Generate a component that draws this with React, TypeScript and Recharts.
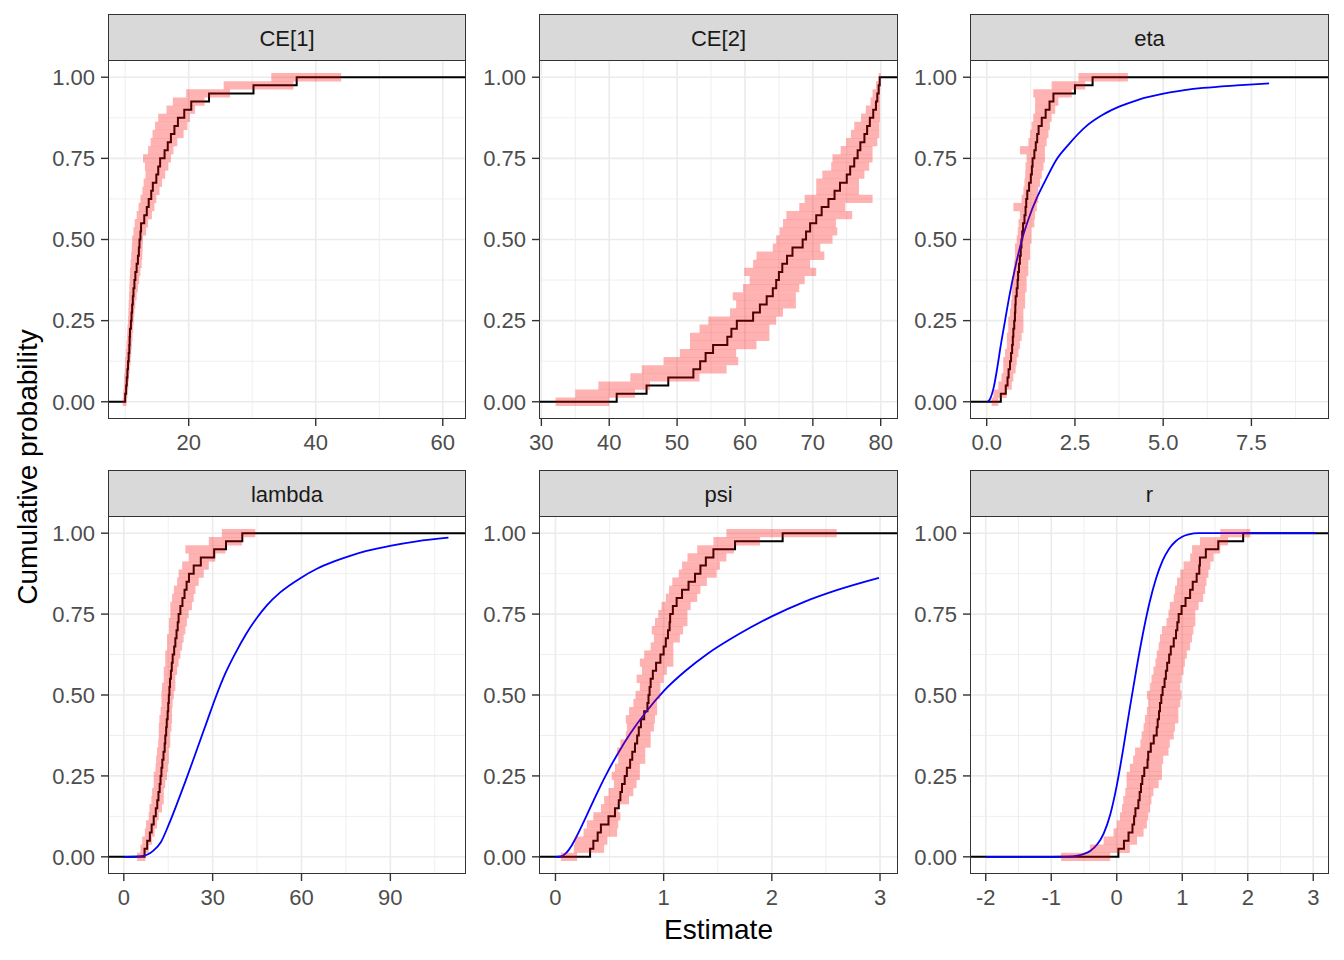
import {
  CartesianGrid,
  ComposedChart,
  ErrorBar,
  Line,
  Scatter,
  XAxis,
  YAxis,
} from "recharts";

const FONT = '"Liberation Sans", Arial, Helvetica, sans-serif';

// cumulative probability levels at which the ECDF / intervals were read
const probs = [
  0, 0.025, 0.05, 0.075, 0.1, 0.125, 0.15, 0.175, 0.2, 0.225, 0.25, 0.275, 0.3, 0.325, 0.35, 0.375,
  0.4, 0.425, 0.45, 0.475, 0.5, 0.525, 0.55, 0.575, 0.6, 0.625, 0.65, 0.675, 0.7, 0.725, 0.75, 0.775,
  0.8, 0.825, 0.85, 0.875, 0.9, 0.925, 0.95, 0.975, 1,
];
const yTicks = [0, 0.25, 0.5, 0.75, 1];
const yMinor = [0.125, 0.375, 0.625, 0.875];

// CE[1]
const ce1Ecdf = [9.9, 10.0, 10.15, 10.25, 10.35, 10.45, 10.55, 10.65, 10.7, 10.75, 10.9, 11.0, 11.1, 11.2, 11.3, 11.45, 11.6, 11.8, 12.0, 12.15, 12.25, 12.4, 12.5, 13.0, 13.4, 13.7, 14.1, 14.35, 14.9, 15.2, 15.5, 16.2, 16.7, 17.2, 17.75, 18.3, 19.3, 20.4, 23.2, 30.2, 37];
const ce1Lo = [9.6, 9.7, 9.8, 9.85, 9.95, 10.0, 10.1, 10.2, 10.3, 10.35, 10.45, 10.5, 10.55, 10.6, 10.65, 10.7, 10.75, 10.85, 10.95, 11.05, 11.1, 11.3, 11.5, 11.8, 12.1, 12.4, 12.7, 12.9, 13.2, 13.1, 12.8, 13.6, 14.0, 14.3, 14.7, 15.2, 16.5, 17.5, 19.6, 25.5, 33];
const ce1Hi = [10.2, 10.35, 10.5, 10.6, 10.7, 10.85, 10.95, 11.05, 11.15, 11.25, 11.35, 11.45, 11.6, 11.8, 12.0, 12.2, 12.4, 12.6, 12.7, 12.75, 12.8, 13.3, 13.6, 14.2, 14.6, 14.9, 15.4, 15.8, 16.3, 16.8, 17.2, 17.6, 18.2, 19.2, 19.8, 20.2, 21.0, 22.5, 26.5, 36.5, 44];
const ce1Domain = [7.45, 63.5];
const ce1Ticks = [20, 40, 60];
const ce1Minor = [10, 30, 50];

// CE[2]
const ce2Ecdf = [37.2, 41.1, 45.5, 48.7, 52.4, 53.4, 54.2, 55.3, 57.4, 58.0, 58.8, 61.2, 62.2, 63.2, 64.1, 64.6, 65.0, 65.5, 66.2, 67.0, 68.5, 69.0, 69.6, 70.5, 71.3, 72.3, 73.2, 74.0, 75.0, 75.5, 76.1, 76.6, 77.0, 77.6, 78.0, 78.4, 78.9, 79.3, 79.5, 79.7, 79.85];
const ce2Lo = [32.1, 35.0, 38.4, 43.1, 44.8, 48.0, 50.4, 51.9, 51.9, 53.3, 54.6, 57.8, 58.7, 58.2, 59.7, 60.7, 59.9, 61.2, 61.7, 64.1, 64.6, 65.1, 65.6, 66.1, 68.0, 68.8, 70.5, 70.5, 71.4, 72.7, 72.9, 74.1, 74.9, 75.6, 76.1, 77.1, 77.8, 78.5, 78.8, 79.3, 79.7];
const ce2Hi = [40.0, 43.8, 46.0, 53.3, 57.3, 59.0, 58.7, 61.7, 63.6, 63.6, 64.6, 65.6, 67.5, 67.5, 68.0, 68.8, 70.5, 69.6, 71.7, 71.1, 72.9, 73.6, 73.4, 75.8, 74.8, 78.8, 76.8, 76.8, 77.6, 78.3, 78.8, 78.8, 79.5, 79.8, 79.8, 79.9, 79.9, 79.9, 79.9, 79.95, 80.0];
const ce2Domain = [29.8, 82.4];
const ce2Ticks = [30, 40, 50, 60, 70, 80];
const ce2Minor = [35, 45, 55, 65, 75];

// eta
const etaEcdf = [0.28, 0.4, 0.54, 0.59, 0.62, 0.66, 0.69, 0.72, 0.74, 0.755, 0.78, 0.8, 0.81, 0.82, 0.85, 0.875, 0.89, 0.915, 0.94, 0.965, 0.985, 1.005, 1.03, 1.07, 1.1, 1.12, 1.15, 1.2, 1.25, 1.28, 1.3, 1.35, 1.39, 1.43, 1.47, 1.56, 1.67, 1.78, 1.89, 2.5, 3.0];
const etaLo = [0.14, 0.19, 0.33, 0.42, 0.47, 0.47, 0.52, 0.57, 0.57, 0.61, 0.61, 0.66, 0.69, 0.71, 0.71, 0.73, 0.755, 0.78, 0.8, 0.8, 0.85, 0.88, 0.9, 0.94, 0.755, 0.99, 1.04, 1.07, 1.09, 1.1, 1.13, 0.94, 1.18, 1.23, 1.27, 1.32, 1.37, 1.37, 1.32, 1.84, 2.6];
const etaHi = [0.33, 0.57, 0.71, 0.755, 0.82, 0.85, 0.9, 0.94, 0.99, 1.04, 1.04, 1.04, 1.09, 1.09, 1.13, 1.13, 1.18, 1.18, 1.23, 1.23, 1.27, 1.27, 1.35, 1.37, 1.42, 1.46, 1.46, 1.51, 1.56, 1.61, 1.65, 1.65, 1.7, 1.75, 1.79, 1.84, 1.94, 2.03, 2.41, 2.79, 4.0];
const etaPriorX = [0.03, 0.1, 0.2, 0.3, 0.4, 0.52, 0.65, 0.8, 1.0, 1.2, 1.42, 1.7, 1.97, 2.3, 2.83, 3.3, 3.77, 4.25, 5.19, 6.13, 7.08, 8.0];
const etaPriorY = [0, 0.01, 0.045, 0.105, 0.175, 0.25, 0.33, 0.41, 0.5, 0.568, 0.628, 0.69, 0.745, 0.79, 0.85, 0.885, 0.91, 0.929, 0.953, 0.967, 0.975, 0.981];
const etaDomain = [-0.445, 9.67];
const etaTicks = [0, 2.5, 5, 7.5];
const etaMinor = [1.25, 3.75, 6.25, 8.75];

// lambda
const lamEcdf = [5.3, 7.0, 7.9, 8.8, 9.4, 10.1, 10.8, 11.3, 11.7, 12.1, 12.4, 12.7, 13.0, 13.4, 13.8, 14.0, 14.3, 14.5, 14.8, 15.0, 15.2, 15.4, 15.6, 15.9, 16.2, 16.5, 17.0, 17.4, 17.8, 18.2, 18.5, 19.1, 19.8, 20.5, 21.2, 22.0, 23.6, 26.0, 30.5, 34.5, 40.0];
const lamLo = [4.5, 5.6, 6.2, 7.1, 7.5, 8.4, 8.65, 9.3, 9.55, 10.1, 10.1, 10.7, 10.9, 11.2, 11.6, 11.8, 11.8, 12.0, 12.4, 12.7, 12.7, 12.9, 13.5, 13.5, 14.0, 14.0, 14.6, 14.6, 15.2, 15.2, 15.7, 15.7, 16.3, 16.9, 18.0, 18.5, 19.7, 21.9, 20.8, 28.7, 33.1];
const lamHi = [7.3, 8.4, 9.55, 10.4, 11.2, 11.8, 12.9, 13.5, 13.5, 14.0, 14.6, 14.9, 15.2, 15.2, 15.7, 15.7, 16.1, 16.3, 16.3, 16.5, 16.9, 17.4, 17.4, 18.0, 18.5, 19.1, 19.7, 20.2, 20.8, 21.3, 21.9, 23.0, 23.6, 24.2, 25.3, 27.0, 28.7, 30.9, 34.3, 39.9, 44.4];
const lamPriorX = [0, 4, 6, 8, 10, 12.5, 15.2, 18, 20.8, 23.3, 25.8, 28.3, 30.9, 34.2, 37.6, 41.2, 44.9, 48.3, 52.8, 59.6, 65.2, 70.8, 76.4, 82, 89.9, 98.9, 109.6];
const lamPriorY = [0, 0.0005, 0.002, 0.007, 0.019, 0.045, 0.1, 0.165, 0.233, 0.296, 0.36, 0.424, 0.49, 0.565, 0.628, 0.687, 0.738, 0.777, 0.817, 0.861, 0.89, 0.912, 0.93, 0.945, 0.961, 0.975, 0.986];
const lamDomain = [-5.0, 115.2];
const lamTicks = [0, 30, 60, 90];
const lamMinor = [15, 45, 75, 105];

// psi
const psiEcdf = [0.09, 0.32, 0.35, 0.39, 0.42, 0.49, 0.55, 0.585, 0.6, 0.615, 0.64, 0.66, 0.69, 0.71, 0.735, 0.755, 0.77, 0.79, 0.82, 0.85, 0.86, 0.87, 0.88, 0.9, 0.93, 0.97, 1.0, 1.02, 1.04, 1.055, 1.06, 1.085, 1.12, 1.17, 1.23, 1.29, 1.34, 1.39, 1.46, 1.66, 2.1];
const psiLo = [0.05, 0.17, 0.18, 0.26, 0.29, 0.35, 0.42, 0.45, 0.49, 0.54, 0.52, 0.55, 0.58, 0.57, 0.6, 0.65, 0.66, 0.65, 0.68, 0.72, 0.74, 0.78, 0.75, 0.8, 0.78, 0.82, 0.88, 0.91, 0.89, 0.92, 0.95, 0.98, 1.02, 1.05, 1.08, 1.14, 1.17, 1.22, 1.31, 1.46, 1.58];
const psiHi = [0.2, 0.45, 0.48, 0.57, 0.58, 0.6, 0.58, 0.68, 0.72, 0.75, 0.78, 0.78, 0.83, 0.83, 0.88, 0.88, 0.91, 0.92, 0.94, 0.94, 0.97, 0.97, 1.0, 1.03, 1.09, 1.09, 1.09, 1.15, 1.18, 1.22, 1.22, 1.25, 1.31, 1.34, 1.4, 1.49, 1.52, 1.58, 1.65, 1.89, 2.6];
const psiPriorX = [0, 0.05, 0.1, 0.15, 0.2, 0.29, 0.38, 0.47, 0.58, 0.69, 0.84, 1.0, 1.2, 1.4, 1.7, 2.0, 2.3, 2.6, 2.99];
const psiPriorY = [0, 0.001, 0.012, 0.035, 0.066, 0.129, 0.194, 0.255, 0.321, 0.38, 0.449, 0.512, 0.574, 0.626, 0.689, 0.743, 0.788, 0.824, 0.862];
const psiDomain = [-0.143, 3.157];
const psiTicks = [0, 1, 2, 3];
const psiMinor = [0.5, 1.5, 2.5];

// r
const rEcdf = [-0.3, 0.025, 0.11, 0.18, 0.24, 0.265, 0.285, 0.33, 0.35, 0.37, 0.39, 0.42, 0.47, 0.48, 0.52, 0.565, 0.61, 0.625, 0.645, 0.66, 0.68, 0.7, 0.73, 0.75, 0.77, 0.8, 0.825, 0.87, 0.905, 0.925, 0.945, 0.99, 1.05, 1.12, 1.16, 1.22, 1.26, 1.27, 1.36, 1.55, 1.93];
const rLo = [-0.85, -0.41, -0.2, -0.05, 0.0, 0.05, 0.08, 0.1, 0.13, 0.15, 0.15, 0.2, 0.25, 0.28, 0.36, 0.38, 0.41, 0.43, 0.46, 0.48, 0.46, 0.51, 0.53, 0.56, 0.59, 0.61, 0.64, 0.66, 0.69, 0.76, 0.79, 0.81, 0.87, 0.89, 0.92, 0.97, 1.02, 1.12, 1.15, 1.27, 1.58];
const rHi = [-0.1, 0.2, 0.31, 0.41, 0.46, 0.48, 0.51, 0.53, 0.56, 0.64, 0.69, 0.69, 0.71, 0.79, 0.81, 0.87, 0.89, 0.94, 0.94, 0.97, 0.99, 0.97, 0.99, 1.02, 1.04, 1.07, 1.12, 1.15, 1.17, 1.2, 1.2, 1.25, 1.32, 1.35, 1.37, 1.4, 1.43, 1.48, 1.58, 1.7, 2.04];
const rPriorX = [-2, -1, -0.75, -0.6, -0.5, -0.4, -0.3, -0.2, -0.1, 0, 0.1, 0.2, 0.3, 0.4, 0.5, 0.6, 0.7, 0.8, 0.9, 1.0, 1.1, 1.25, 3.03];
const rPriorY = [0, 0, 0.0005, 0.0035, 0.009, 0.019, 0.038, 0.072, 0.13, 0.22, 0.335, 0.46, 0.58, 0.69, 0.785, 0.86, 0.915, 0.952, 0.975, 0.989, 0.996, 1, 1];
const rDomain = [-2.225, 3.225];
const rTicks = [-2, -1, 0, 1, 2, 3];
const rMinor = [-1.5, -0.5, 0.5, 1.5, 2.5];

const intFmt = (v: number) => String(v);
const oneDec = (v: number) => v.toFixed(1);

const panels = [
  { title: "CE[1]", ecdf: ce1Ecdf, lo: ce1Lo, hi: ce1Hi, domain: ce1Domain, ticks: ce1Ticks, minor: ce1Minor, fmt: intFmt },
  { title: "CE[2]", ecdf: ce2Ecdf, lo: ce2Lo, hi: ce2Hi, domain: ce2Domain, ticks: ce2Ticks, minor: ce2Minor, fmt: intFmt },
  { title: "eta", ecdf: etaEcdf, lo: etaLo, hi: etaHi, priorX: etaPriorX, priorY: etaPriorY, domain: etaDomain, ticks: etaTicks, minor: etaMinor, fmt: oneDec },
  { title: "lambda", ecdf: lamEcdf, lo: lamLo, hi: lamHi, priorX: lamPriorX, priorY: lamPriorY, domain: lamDomain, ticks: lamTicks, minor: lamMinor, fmt: intFmt },
  { title: "psi", ecdf: psiEcdf, lo: psiLo, hi: psiHi, priorX: psiPriorX, priorY: psiPriorY, domain: psiDomain, ticks: psiTicks, minor: psiMinor, fmt: intFmt },
  { title: "r", ecdf: rEcdf, lo: rLo, hi: rHi, priorX: rPriorX, priorY: rPriorY, domain: rDomain, ticks: rTicks, minor: rMinor, fmt: intFmt },
];

// plot-area placement (page pixels)
const cols = [
  { left: 109, width: 356 },
  { left: 540, width: 357 },
  { left: 971, width: 357 },
];
const rows = [
  { top: 61, height: 357 },
  { top: 517, height: 356 },
];

const AXIS_W = 100;
const AXIS_H = 60;
const STRIP_H = 47;

const tickText = { fill: "#4D4D4D", fontSize: 22, fontFamily: FONT };
const tickLine = { stroke: "#333333", strokeWidth: 1.4 };

const NoDot = () => <g />;

function Facet({ p, col, row }: { p: any; col: any; row: any }) {
  const ecdfLine = [
    { x: p.domain[0], y: 0 },
    ...probs.map((q, i) => ({ x: p.ecdf[i], y: q })),
    { x: p.domain[1], y: 1 },
  ];
  const bars = probs.map((q, i) => ({
    x: (p.lo[i] + p.hi[i]) / 2,
    y: q,
    err: (p.hi[i] - p.lo[i]) / 2,
  }));
  const prior = p.priorX ? p.priorX.map((x: number, i: number) => ({ x, y: p.priorY[i] })) : null;

  return (
    <>
      <div style={{ position: "absolute", left: col.left - AXIS_W, top: row.top }}>
        <ComposedChart
          width={col.width + AXIS_W}
          height={row.height + AXIS_H}
          margin={{ top: 0, right: 0, bottom: 0, left: 0 }}
        >
          <CartesianGrid
            horizontalValues={yMinor}
            verticalValues={p.minor}
            stroke="#EBEBEB"
            strokeWidth={0.8}
          />
          <CartesianGrid
            horizontalValues={yTicks}
            verticalValues={p.ticks}
            stroke="#EBEBEB"
            strokeWidth={1.6}
          />
          <XAxis
            type="number"
            dataKey="x"
            domain={p.domain}
            allowDataOverflow
            ticks={p.ticks}
            interval={0}
            tickFormatter={p.fmt}
            axisLine={false}
            tickLine={tickLine}
            tickSize={8}
            tickMargin={8}
            tick={tickText}
            height={AXIS_H}
          />
          <YAxis
            type="number"
            dataKey="y"
            domain={[-0.05, 1.05]}
            allowDataOverflow
            ticks={yTicks}
            interval={0}
            tickFormatter={(v: number) => v.toFixed(2)}
            axisLine={false}
            tickLine={tickLine}
            tickSize={8}
            tickMargin={6}
            tick={tickText}
            width={AXIS_W}
          />
          <Line
            data={ecdfLine}
            dataKey="y"
            type="stepAfter"
            stroke="#000000"
            strokeWidth={2}
            dot={false}
            isAnimationActive={false}
          />
          {prior && (
            <Line
              data={prior}
              dataKey="y"
              type="monotone"
              stroke="#0000FF"
              strokeWidth={1.8}
              dot={false}
              isAnimationActive={false}
            />
          )}
          <Scatter data={bars} shape={NoDot} isAnimationActive={false}>
            <ErrorBar
              dataKey="err"
              direction="x"
              width={0}
              stroke="#FF0000"
              strokeOpacity={0.3}
              strokeWidth={8.3}
              isAnimationActive={false}
            />
          </Scatter>
        </ComposedChart>
      </div>
      <div
        style={{
          position: "absolute",
          left: col.left - 1,
          top: row.top - 1,
          width: col.width + 2,
          height: row.height + 2,
          border: "1.4px solid #333333",
          boxSizing: "border-box",
          pointerEvents: "none",
        }}
      />
      <div
        style={{
          position: "absolute",
          left: col.left - 1,
          top: row.top - STRIP_H,
          width: col.width + 2,
          height: STRIP_H,
          background: "#D9D9D9",
          border: "1.4px solid #333333",
          boxSizing: "border-box",
          display: "flex",
          alignItems: "center",
          justifyContent: "center",
          paddingTop: 2,
          fontFamily: FONT,
          fontSize: 22,
          color: "#1A1A1A",
        }}
      >
        {p.title}
      </div>
    </>
  );
}

export default function App() {
  return (
    <div
      style={{
        position: "absolute",
        left: 0,
        top: 0,
        width: 1344,
        height: 960,
        background: "#FFFFFF",
        overflow: "hidden",
      }}
    >
      {panels.map((p, i) => (
        <Facet key={p.title} p={p} col={cols[i % 3]} row={rows[Math.floor(i / 3)]} />
      ))}
      <div
        style={{
          position: "absolute",
          left: 109,
          width: 1219,
          top: 914,
          textAlign: "center",
          fontFamily: FONT,
          fontSize: 28,
          lineHeight: "32px",
          color: "#000000",
        }}
      >
        Estimate
      </div>
      <div
        style={{
          position: "absolute",
          left: 28 - 200,
          top: 467 - 16,
          width: 400,
          textAlign: "center",
          fontFamily: FONT,
          fontSize: 28,
          lineHeight: "32px",
          color: "#000000",
          transform: "rotate(-90deg)",
          transformOrigin: "50% 50%",
        }}
      >
        Cumulative probability
      </div>
    </div>
  );
}
